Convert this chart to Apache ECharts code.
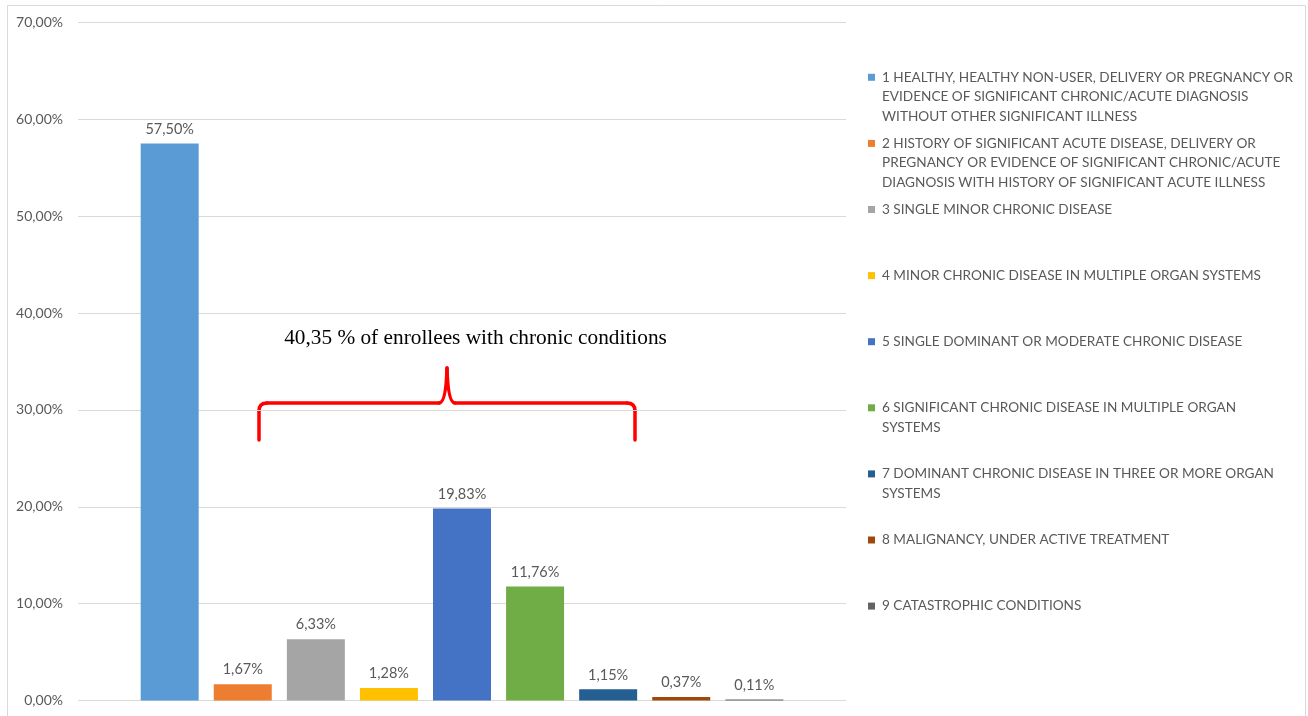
<!DOCTYPE html>
<html>
<head>
<meta charset="utf-8">
<script src="https://cdn.jsdelivr.net/npm/echarts@6/dist/echarts.min.js"></script>
<style>
  html, body { margin: 0; padding: 0; background: #fff; }
  #chart { width: 1308px; height: 716px; }
</style>
</head>
<body>
<div id="chart"></div>
<script>
// Share of enrollees by risk group (percent)
const groupNames = [
  '1 HEALTHY, HEALTHY NON-USER, DELIVERY OR PREGNANCY OR EVIDENCE OF SIGNIFICANT CHRONIC/ACUTE DIAGNOSIS WITHOUT OTHER SIGNIFICANT ILLNESS',
  '2 HISTORY OF SIGNIFICANT ACUTE DISEASE, DELIVERY OR PREGNANCY OR EVIDENCE OF SIGNIFICANT CHRONIC/ACUTE DIAGNOSIS WITH HISTORY OF SIGNIFICANT ACUTE ILLNESS',
  '3 SINGLE MINOR CHRONIC DISEASE',
  '4 MINOR CHRONIC DISEASE IN MULTIPLE ORGAN SYSTEMS',
  '5 SINGLE DOMINANT OR MODERATE CHRONIC DISEASE',
  '6 SIGNIFICANT CHRONIC DISEASE IN MULTIPLE ORGAN SYSTEMS',
  '7 DOMINANT CHRONIC DISEASE IN THREE OR MORE ORGAN SYSTEMS',
  '8 MALIGNANCY, UNDER ACTIVE TREATMENT',
  '9 CATASTROPHIC CONDITIONS'
];

// Legend text, wrapped into lines
const legendLines = [
  ['1 HEALTHY, HEALTHY NON-USER, DELIVERY OR PREGNANCY OR', 'EVIDENCE OF SIGNIFICANT CHRONIC/ACUTE DIAGNOSIS', 'WITHOUT OTHER SIGNIFICANT ILLNESS'],
  ['2 HISTORY OF SIGNIFICANT ACUTE DISEASE, DELIVERY OR', 'PREGNANCY OR EVIDENCE OF SIGNIFICANT CHRONIC/ACUTE', 'DIAGNOSIS WITH HISTORY OF SIGNIFICANT ACUTE ILLNESS'],
  ['3 SINGLE MINOR CHRONIC DISEASE'],
  ['4 MINOR CHRONIC DISEASE IN MULTIPLE ORGAN SYSTEMS'],
  ['5 SINGLE DOMINANT OR MODERATE CHRONIC DISEASE'],
  ['6 SIGNIFICANT CHRONIC DISEASE IN MULTIPLE ORGAN', 'SYSTEMS'],
  ['7 DOMINANT CHRONIC DISEASE IN THREE OR MORE ORGAN', 'SYSTEMS'],
  ['8 MALIGNANCY, UNDER ACTIVE TREATMENT'],
  ['9 CATASTROPHIC CONDITIONS']
];

const shareValues = [57.50, 1.67, 6.33, 1.28, 19.83, 11.76, 1.15, 0.37, 0.11];

const groupColors = ['#5B9BD5', '#ED7D31', '#A5A5A5', '#FFC000', '#4472C4', '#70AD47', '#255E91', '#9E480E', '#636363'];

const yTicks = { min: 0, max: 70, interval: 10 };

const annotationText = '40,35 % of enrollees with chronic conditions';

const uiFont = 'Lato';
const textGrey = '#595959';

function pct(v) {
  return v.toFixed(2).replace('.', ',') + '%';
}

const chart = echarts.init(document.getElementById('chart'), null, { renderer: 'canvas' });

// square markers drawn inline in the legend text so they sit on the first line
const rich = {
  g: { width: 7 },
  pad: { width: 14 }
};
groupColors.forEach((c, i) => {
  rich['sq' + i] = { width: 7, height: 7, backgroundColor: c };
});

const legendLineHeight = 19.6;
const legends = groupNames.map((name, i) => ({
  data: [name],
  orient: 'vertical',
  left: 863,
  top: 77.3 - legendLineHeight / 2 + 66.1 * i,
  padding: 0,
  icon: 'none',
  itemWidth: 0,
  itemHeight: 10,
  selectedMode: false,
  formatter: () => legendLines[i]
    .map((line, k) => (k === 0 ? '{sq' + i + '|}{g|}' : '{pad|}') + line)
    .join('\n'),
  textStyle: {
    color: textGrey,
    fontFamily: uiFont,
    fontSize: 13.6,
    lineHeight: legendLineHeight,
    rich: rich
  }
}));

const series = groupNames.map((name, i) => ({
  name: name,
  type: 'bar',
  data: [shareValues[i]],
  barWidth: 58,
  barGap: '26%',
  itemStyle: { color: groupColors[i] },
  label: {
    show: true,
    position: 'top',
    distance: 7,
    color: textGrey,
    fontFamily: uiFont,
    fontSize: 14.5,
    formatter: (p) => pct(p.value)
  }
}));

// curly brace spanning the chronic-condition groups
const braceStyle = { fill: 'none', stroke: '#ff0000', lineWidth: 3.5, lineCap: 'round' };
const braceLine = (x1, y1, x2, y2) => ({
  type: 'line', silent: true,
  shape: { x1, y1, x2, y2 },
  style: braceStyle
});
const braceCurve = (x1, y1, cpx1, cpy1, x2, y2) => ({
  type: 'bezierCurve', silent: true,
  shape: { x1, y1, cpx1, cpy1, x2, y2 },
  style: braceStyle
});
const brace = [
  braceLine(259, 440, 259, 411),
  braceCurve(259, 411, 259, 403, 267, 403),
  braceLine(267, 403, 439, 403),
  braceCurve(439, 403, 446, 403, 447, 368),
  braceCurve(447, 368, 448, 403, 455, 403),
  braceLine(455, 403, 627, 403),
  braceCurve(627, 403, 635, 403, 635, 411),
  braceLine(635, 411, 635, 440)
];

chart.setOption({
  backgroundColor: '#ffffff',
  animation: false,
  grid: { left: 78, right: 462, top: 22.5, bottom: 15.5 },
  xAxis: {
    type: 'category',
    data: [''],
    axisLine: { show: false },
    axisTick: { show: false },
    axisLabel: { show: false }
  },
  yAxis: {
    type: 'value',
    min: yTicks.min,
    max: yTicks.max,
    interval: yTicks.interval,
    axisLine: { show: false },
    axisTick: { show: false },
    splitLine: { lineStyle: { color: '#d9d9d9', width: 1 } },
    axisLabel: {
      margin: 15,
      color: textGrey,
      fontFamily: uiFont,
      fontSize: 14,
      formatter: (v) => pct(v)
    }
  },
  legend: legends,
  series: series,
  graphic: [
    {
      type: 'rect',
      silent: true,
      shape: { x: 7.5, y: 5.5, width: 1298, height: 720 },
      style: { fill: 'none', stroke: '#d9d9d9', lineWidth: 1 }
    },
    {
      type: 'text',
      silent: true,
      x: 475.5,
      y: 338,
      style: {
        text: annotationText,
        align: 'center',
        verticalAlign: 'middle',
        fontFamily: 'Liberation Serif',
        fontSize: 21.3,
        fill: '#000000'
      }
    }
  ].concat(brace)
});
</script>
</body>
</html>
